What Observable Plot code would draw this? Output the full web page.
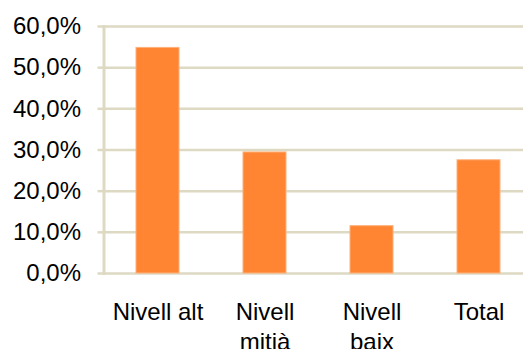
<!DOCTYPE html>
<html>
<head>
<meta charset="utf-8">
<script src="https://cdn.jsdelivr.net/npm/d3@7"></script>
<script src="https://cdn.jsdelivr.net/npm/@observablehq/plot@0.6"></script>
<style>
  html, body { margin: 0; padding: 0; background: #fff; overflow: hidden; }
  #chart { width: 523px; height: 349px; overflow: hidden; }
</style>
</head>
<body>
<div id="chart"></div>
<script>
// Share of each level (percent)
const categories = ["alt", "mitja", "baix", "total"];
const categoryLabels = ["Nivell alt", "Nivell\nmitjà", "Nivell\nbaix", "Total"];
const values = [54.8, 29.4, 11.5, 27.5];
const yTicks = [0, 10, 20, 30, 40, 50, 60];

const data = categories.map((c, i) => ({category: c, value: values[i]}));
const labelOf = new Map(categories.map((c, i) => [c, categoryLabels[i]]));

const catalan = d3.formatLocale({decimal: ",", thousands: ".", grouping: [3], currency: ["", " €"]});
const pct = (d) => catalan.format(".1f")(d) + "%";

const gridColor = "#DDD9C3";
const barColor = "#FF8533";

const chart = Plot.plot({
  width: 523,
  height: 349,
  marginLeft: 103.5,
  marginRight: -9,
  marginTop: 26,
  marginBottom: 76,
  style: {fontFamily: "'Liberation Sans', Arial, sans-serif", fontSize: "24px", color: "#000", background: "#fff", overflow: "hidden"},
  x: {domain: categories, paddingInner: 0.6, paddingOuter: 0.3, label: null},
  y: {domain: [0, 60], label: null},
  marks: [
    Plot.ruleY(yTicks, {stroke: gridColor, strokeWidth: 2.5}),
    Plot.barY(data, {x: "category", y: "value", fill: barColor, stroke: "#FFB07A", strokeWidth: 1}),
    Plot.frame({anchor: "left", stroke: gridColor, strokeWidth: 3}),
    Plot.axisY({ticks: yTicks, tickSize: 6, tickPadding: 17, tickFormat: pct, stroke: gridColor, strokeWidth: 2.5, fill: "#000", strokeOpacity: 1, label: null}),
    Plot.axisX({tickSize: 0, tickPadding: 26, tickFormat: (d) => labelOf.get(d), lineHeight: 1.22, fill: "#000", label: null})
  ]
});

document.getElementById("chart").appendChild(chart);
</script>
</body>
</html>
